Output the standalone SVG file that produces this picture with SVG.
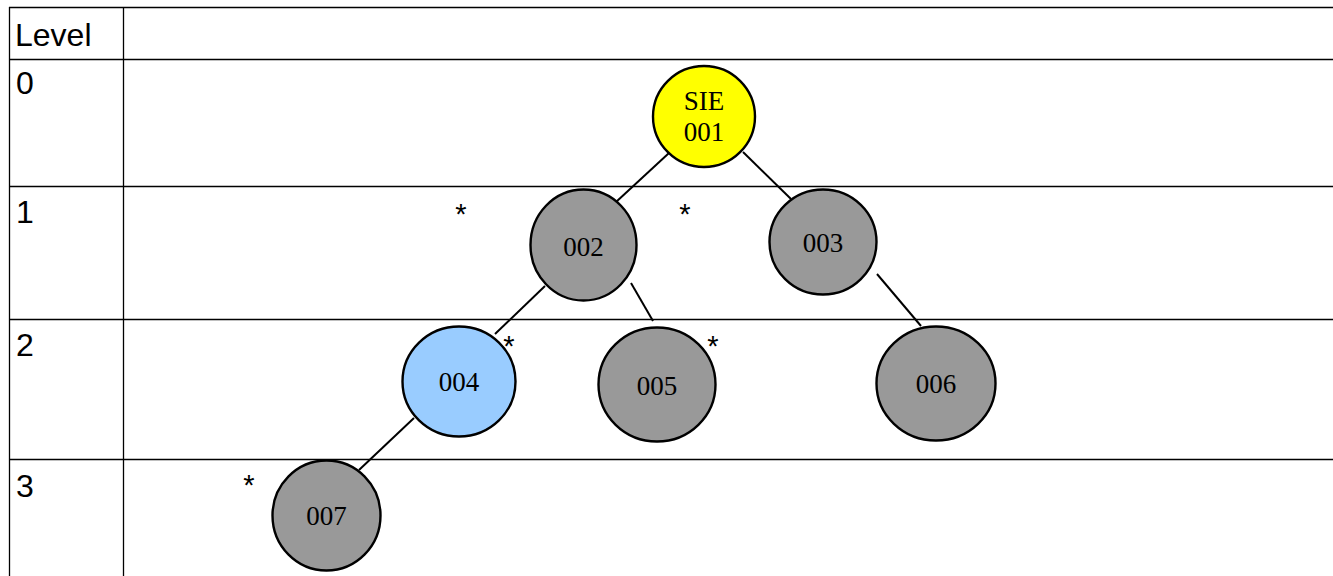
<svg xmlns="http://www.w3.org/2000/svg" width="1333" height="576" viewBox="0 0 1333 576">
<style>
.grid{stroke:#000;stroke-width:1.3;fill:none}
.lvl{font-family:"Liberation Sans",Arial,sans-serif;font-size:32px;fill:#000}
.star{font-family:"Liberation Sans",Arial,sans-serif;font-size:29px;fill:#000;text-anchor:middle}
.node{stroke:#000;stroke-width:2.4}
.gray{fill:#999999}
.lab{font-family:"Liberation Serif","Times New Roman",serif;font-size:27px;fill:#000;text-anchor:middle}
.edge{stroke:#000;stroke-width:2;fill:none}
</style>
<rect width="1333" height="576" fill="#fff"/>
<g id="table">
<line class="grid" x1="9" y1="7.5" x2="1333" y2="7.5"/>
<line class="grid" x1="9" y1="59.5" x2="1333" y2="59.5"/>
<line class="grid" x1="9" y1="186.5" x2="1333" y2="186.5"/>
<line class="grid" x1="9" y1="319.5" x2="1333" y2="319.5"/>
<line class="grid" x1="9" y1="459.5" x2="1333" y2="459.5"/>
<line class="grid" x1="9.5" y1="7" x2="9.5" y2="576"/>
<line class="grid" x1="123.5" y1="7" x2="123.5" y2="576"/>
<text class="lvl" x="15" y="46">Level</text>
<text class="lvl" x="16" y="94">0</text>
<text class="lvl" x="16" y="223">1</text>
<text class="lvl" x="16" y="356">2</text>
<text class="lvl" x="16" y="497">3</text>
</g>
<g id="connectors">
<line class="edge" x1="669" y1="153" x2="616" y2="202"/>
<line class="edge" x1="743" y1="152" x2="791" y2="199"/>
<line class="edge" x1="545" y1="286" x2="495" y2="334"/>
<line class="edge" x1="631" y1="283" x2="653" y2="321"/>
<line class="edge" x1="877" y1="274" x2="921" y2="326"/>
<line class="edge" x1="414" y1="418" x2="359" y2="470"/>
</g>
<g id="n001"><ellipse class="node" cx="704" cy="116.5" rx="51" ry="50.5" fill="#ffff00"/><text class="lab" x="704" y="110">SIE</text><text class="lab" x="704" y="140.5">001</text></g>
<g id="n002"><ellipse class="node gray" cx="583.5" cy="245" rx="53" ry="55.5"/><text class="lab" x="583.5" y="256">002</text></g>
<g id="n003"><ellipse class="node gray" cx="823" cy="242" rx="53.5" ry="52.5"/><text class="lab" x="823" y="252">003</text></g>
<g id="n004"><ellipse class="node" cx="459" cy="381.5" rx="56.5" ry="55" fill="#99ccff"/><text class="lab" x="459" y="391">004</text></g>
<g id="n005"><ellipse class="node gray" cx="657" cy="384.5" rx="58.5" ry="57"/><text class="lab" x="657" y="395">005</text></g>
<g id="n006"><ellipse class="node gray" cx="936" cy="383.5" rx="59.5" ry="57"/><text class="lab" x="936" y="393">006</text></g>
<g id="n007"><ellipse class="node gray" cx="326.5" cy="515.5" rx="54" ry="55"/><text class="lab" x="326.5" y="525">007</text></g>
<g id="stars">
<text class="star" x="461" y="224">*</text>
<text class="star" x="685" y="224">*</text>
<text class="star" x="509" y="356">*</text>
<text class="star" x="713" y="356">*</text>
<text class="star" x="249" y="495">*</text>
</g>
</svg>
